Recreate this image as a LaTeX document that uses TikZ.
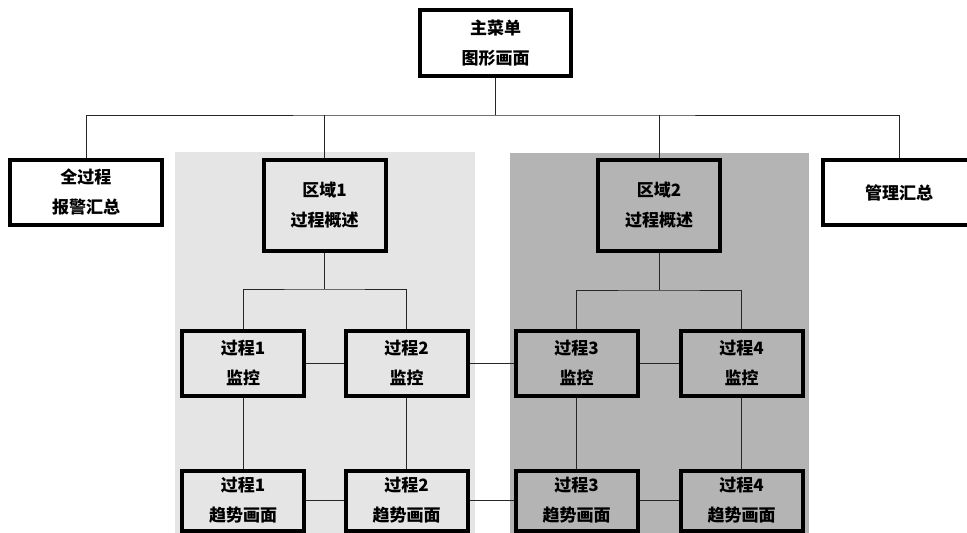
\documentclass[tikz,border=0pt]{standalone}
\usepackage{fontspec}
\newfontfamily\cjk{Noto Sans CJK SC}
\usepackage{tikz}
\usetikzlibrary{positioning}
\definecolor{panellight}{gray}{0.9}
\definecolor{paneldark}{gray}{0.705}
\tikzset{
  box/.style={draw, line width=4pt, align=center, font=\cjk\bfseries\fontsize{17}{30}\selectfont,
              minimum width=152pt, minimum height=65pt, inner sep=0pt},
  sbox/.style={box, minimum width=122pt},
  link/.style={line width=1pt, black!85}
}
\begin{document}
\begin{tikzpicture}[x=1pt, y=-1pt]
    \clip (0,0) rectangle (967,533);
    % the two area panels
    \fill[panellight] (175,152) rectangle (475,540);
    \fill[paneldark] (510,153) rectangle (809,540);

    \node[box, minimum width=151pt, minimum height=66pt] (M) at (495.5,43) {主菜单\\图形画面};
    \node[box] (W) at (86,192.5) {全过程\\报警汇总};
    \node[box] (G) at (899,192.5) {管理汇总};
    \node[sbox, minimum height=91pt] (A1) at (324.5,205) {区域1\\过程概述};
    \node[sbox, minimum height=91pt] (A2) at (659,205.5) {区域2\\过程概述};

    \node[sbox] (P1) at (243,363) {过程1\\监控};
    \node[sbox] (P2) at (406.5,363) {过程2\\监控};
    \node[sbox] (P3) at (576.5,363) {过程3\\监控};
    \node[sbox] (P4) at (741.5,363) {过程4\\监控};
    \node[sbox, minimum height=60pt, below=71pt of P1] (T1) {过程1\\趋势画面};
    \node[sbox, minimum height=60pt, below=71pt of P2] (T2) {过程2\\趋势画面};
    \node[sbox, minimum height=60pt, below=71pt of P3] (T3) {过程3\\趋势画面};
    \node[sbox, minimum height=60pt, below=71pt of P4] (T4) {过程4\\趋势画面};

    % tree lines
    \coordinate (bus) at (495.5,115);
    \draw[link] (M) -- (bus);
    \draw[link] (W) |- (bus) -| (G);
    \draw[link] (A1) -- (A1 |- bus);
    \draw[link] (A2) -- (A2 |- bus);
    \coordinate (F1) at (324.5,289);
    \coordinate (F2) at (659,290);
    \draw[link] (A1) -- (F1);
    \draw[link] (A2) -- (F2);
    \draw[link] (P1) |- (F1) -| (P2);
    \draw[link] (P3) |- (F2) -| (P4);
    \draw[link] (P1) -- (P2) -- (P3) -- (P4);
    \draw[link] (T1) -- (T2) -- (T3) -- (T4);
    \foreach \i in {1,...,4}
      \draw[link] (P\i) -- (T\i);
\end{tikzpicture}
\end{document}
